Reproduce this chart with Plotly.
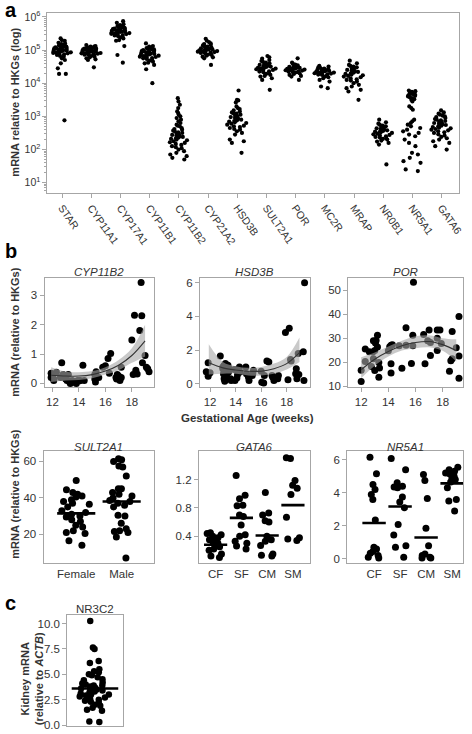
import plotly.graph_objects as go

W, H = 472, 734
FONT = "Liberation Sans, Arial, sans-serif"

# ---------------- Panel a data (log10 of mRNA relative to HKGs) ----------------
genes_a = ["STAR", "CYP11A1", "CYP17A1", "CYP11B1", "CYP11B2", "CYP21A2", "HSD3B",
           "SULT2A1", "POR", "MC2R", "MRAP", "NR0B1", "NR5A1", "GATA6"]
log_star = [5.35, 5.3, 5.28, 5.22, 5.2, 5.18, 5.15, 5.14, 5.12, 5.1, 5.1, 5.08, 5.07, 5.05, 5.05,
            5.04, 5.03, 5.02, 5.01, 5.0, 5.0, 4.99, 4.98, 4.97, 4.96, 4.95, 4.94, 4.93, 4.92, 4.91,
            4.9, 4.88, 4.87, 4.85, 4.82, 4.8, 4.75, 4.7, 4.6, 4.45, 4.28, 4.28, 2.88]
log_cyp11a1 = [5.15, 5.12, 5.1, 5.1, 5.08, 5.07, 5.06, 5.05, 5.04, 5.03, 5.02, 5.01, 5.0, 5.0,
               4.99, 4.98, 4.98, 4.97, 4.96, 4.95, 4.95, 4.94, 4.93, 4.92, 4.91, 4.9, 4.9, 4.89,
               4.88, 4.87, 4.86, 4.85, 4.84, 4.82, 4.8, 4.78, 4.75, 4.72, 4.7, 4.48]
log_cyp17a1 = [5.87, 5.82, 5.78, 5.75, 5.73, 5.72, 5.7, 5.68, 5.67, 5.65, 5.64, 5.63, 5.62, 5.61,
               5.6, 5.6, 5.59, 5.58, 5.57, 5.56, 5.55, 5.55, 5.54, 5.53, 5.52, 5.51, 5.5, 5.49,
               5.48, 5.47, 5.45, 5.44, 5.42, 5.4, 5.38, 5.35, 5.3, 5.28, 5.12, 4.85, 4.62]
log_cyp11b1 = [5.2, 5.12, 5.1, 5.08, 5.06, 5.04, 5.03, 5.02, 5.0, 4.98, 4.97, 4.96, 4.95, 4.94,
               4.93, 4.92, 4.91, 4.9, 4.89, 4.88, 4.87, 4.86, 4.85, 4.84, 4.83, 4.82, 4.8, 4.79,
               4.78, 4.76, 4.75, 4.73, 4.7, 4.68, 4.65, 4.62, 4.6, 4.55, 4.42, 4.0]
log_cyp11b2 = [3.55, 3.45, 3.35, 3.25, 3.15, 3.1, 3.05, 3.0, 2.95, 2.9, 2.85, 2.8, 2.75, 2.72,
               2.7, 2.65, 2.62, 2.6, 2.57, 2.55, 2.52, 2.5, 2.48, 2.46, 2.44, 2.42, 2.4, 2.38,
               2.36, 2.34, 2.32, 2.3, 2.28, 2.25, 2.22, 2.2, 2.17, 2.14, 2.1, 2.07, 2.04, 2.0,
               1.95, 1.9, 1.85, 1.8, 1.75, 1.7]
log_cyp21a2 = [5.34, 5.28, 5.24, 5.2, 5.18, 5.16, 5.14, 5.12, 5.1, 5.08, 5.07, 5.06, 5.05, 5.04,
               5.03, 5.02, 5.01, 5.0, 4.99, 4.98, 4.97, 4.96, 4.95, 4.94, 4.93, 4.92, 4.91, 4.9,
               4.88, 4.86, 4.85, 4.83, 4.8, 4.78, 4.75, 4.55]
log_hsd3b = [3.78, 3.5, 3.48, 3.42, 3.3, 3.25, 3.22, 3.18, 3.15, 3.12, 3.1, 3.08, 3.05, 3.02, 3.0,
             2.98, 2.95, 2.93, 2.9, 2.88, 2.86, 2.84, 2.82, 2.8, 2.78, 2.75, 2.72, 2.7, 2.68, 2.65,
             2.62, 2.6, 2.55, 2.5, 2.45, 2.3, 2.25, 2.2, 1.9]
log_sult2a1 = [4.82, 4.78, 4.74, 4.7, 4.67, 4.65, 4.62, 4.6, 4.58, 4.56, 4.55, 4.54, 4.52, 4.5,
               4.49, 4.48, 4.46, 4.45, 4.44, 4.43, 4.42, 4.4, 4.38, 4.36, 4.35, 4.33, 4.3, 4.28,
               4.25, 4.22, 4.2, 4.15, 4.1, 3.8]
log_por = [4.75, 4.62, 4.58, 4.56, 4.54, 4.52, 4.5, 4.49, 4.48, 4.47, 4.46, 4.45, 4.44, 4.43, 4.42,
           4.41, 4.4, 4.39, 4.38, 4.37, 4.36, 4.35, 4.34, 4.33, 4.32, 4.3, 4.28, 4.25, 4.22, 4.2,
           4.1]
log_mc2r = [4.52, 4.5, 4.48, 4.46, 4.44, 4.43, 4.42, 4.41, 4.4, 4.39, 4.38, 4.37, 4.36, 4.35, 4.34,
            4.33, 4.32, 4.31, 4.3, 4.29, 4.28, 4.27, 4.26, 4.25, 4.22, 4.2, 4.18, 4.15, 4.1, 4.05,
            3.9, 3.85]
log_mrap = [4.68, 4.6, 4.55, 4.52, 4.5, 4.48, 4.45, 4.43, 4.4, 4.38, 4.36, 4.34, 4.32, 4.3, 4.28,
            4.26, 4.24, 4.22, 4.2, 4.18, 4.15, 4.12, 4.1, 4.08, 4.05, 4.0, 3.95, 3.9, 3.85, 3.8,
            3.75, 3.5]
log_nr0b1 = [2.9, 2.82, 2.78, 2.75, 2.72, 2.7, 2.68, 2.66, 2.64, 2.62, 2.6, 2.58, 2.56, 2.55, 2.54,
             2.52, 2.5, 2.48, 2.46, 2.44, 2.42, 2.4, 2.38, 2.36, 2.34, 2.32, 2.3, 2.27, 2.24, 2.2,
             2.15, 1.55]
log_nr5a1 = [3.78, 3.76, 3.74, 3.72, 3.7, 3.68, 3.67, 3.65, 3.63, 3.62, 3.6, 3.58, 3.55, 3.52, 3.5,
             3.45, 3.3, 3.25, 3.2, 2.9, 2.85, 2.8, 2.75, 2.7, 2.65, 2.6, 2.55, 2.5, 2.45, 2.4, 2.3,
             2.2, 2.1, 1.9, 1.85, 1.75, 1.65, 1.6, 1.4, 1.35]
log_gata6 = [3.18, 3.12, 3.08, 3.05, 3.02, 3.0, 2.98, 2.95, 2.92, 2.9, 2.88, 2.86, 2.84, 2.82, 2.8,
             2.78, 2.76, 2.74, 2.72, 2.7, 2.68, 2.66, 2.64, 2.62, 2.6, 2.58, 2.55, 2.52, 2.5, 2.46,
             2.42, 2.38, 2.34, 2.3, 2.25, 2.2, 2.1, 2.0]
logs_a = [log_star, log_cyp11a1, log_cyp17a1, log_cyp11b1, log_cyp11b2, log_cyp21a2, log_hsd3b,
          log_sult2a1, log_por, log_mc2r, log_mrap, log_nr0b1, log_nr5a1, log_gata6]
a_tickexp = [1, 2, 3, 4, 5, 6]

# ---------------- Panel b, row 1 (gestational age vs mRNA) ----------------
age_cyp11b2 = [11.9, 11.9, 11.95, 12.1, 12.1, 12.3, 12.7, 12.6, 12.8, 12.9,
               13.0, 13.1, 13.2, 13.3, 13.35, 13.5, 13.6, 13.8, 13.9, 14.0,
               14.1, 14.3, 14.4, 15.2, 15.2, 15.25, 15.3, 15.5, 15.8, 16.0,
               16.2, 16.4, 16.3, 16.8, 16.85, 16.9, 17.0, 17.1, 17.2, 17.2,
               18.0, 18.1, 18.2, 18.3, 18.4, 18.6, 18.7, 18.75, 18.8, 19.0,
               19.1, 19.2, 19.3]
val_cyp11b2 = [0.35, 0.2, 0.25, 0.1, 0.15, 0.38, 0.7, 0.2, 0.3, 0.25,
               0.15, 0.1, 0.3, 0.05, 0.0, 0.1, 0.05, 0.0, 0.1, 0.08,
               0.1, 0.62, 0.1, 0.3, 0.15, 0.05, 0.4, 0.2, 0.55, 0.6,
               0.85, 1.02, 0.35, 0.2, 0.15, 0.3, 0.25, 0.1, 0.2, 0.55,
               1.48, 0.3, 2.32, 0.45, 0.32, 1.8, 3.43, 2.3, 0.7, 0.95,
               0.55, 0.5, 0.4]
fitage_cyp11b2 = [11.9, 13, 14, 15, 16, 17, 18, 19.0]
fit_cyp11b2 = [0.28, 0.25, 0.25, 0.3, 0.42, 0.62, 0.95, 1.45]
lo_cyp11b2 = [0.05, 0.1, 0.12, 0.18, 0.3, 0.45, 0.7, 0.92]
hi_cyp11b2 = [0.55, 0.4, 0.38, 0.42, 0.55, 0.8, 1.2, 2.0]

age_hsd3b = [11.7, 11.85, 11.85, 12.0, 12.8, 13.0, 13.0, 13.05, 13.1, 13.1,
             13.15, 13.2, 13.2, 13.25, 13.3, 13.4, 13.45, 13.5, 13.6, 13.65,
             13.9, 13.95, 14.1, 14.15, 14.3, 14.35, 14.8, 14.85, 15.0, 15.05,
             15.3, 15.35, 15.4, 16.0, 16.05, 16.2, 16.25, 16.45, 16.6, 16.85,
             16.9, 17.0, 17.1, 17.3, 17.35, 17.9, 18.2, 18.1, 18.3, 18.35,
             18.7, 18.75, 18.8, 18.9, 18.95, 19.3, 19.35, 19.4]
val_hsd3b = [0.72, 0.45, 1.25, 0.66, 1.65, 0.9, 1.0, 0.6, 1.1, 0.3,
             0.15, 1.2, 0.8, 0.5, 0.4, 1.1, 0.7, 0.9, 0.3, 0.2,
             0.85, 0.2, 0.35, 0.55, 1.0, 0.7, 1.0, 0.6, 0.4, 0.2,
             0.5, 0.6, 0.8, 0.75, 0.1, 0.05, 0.5, 1.35, 1.3, 0.5,
             0.4, 0.2, 0.3, 0.3, 0.5, 3.05, 3.3, 0.25, 1.45, 1.35,
             0.6, 0.9, 0.3, 1.8, 0.55, 1.9, 0.2, 6.0]
fitage_hsd3b = [11.9, 13, 14, 15, 16, 17, 18, 19.0]
fit_hsd3b = [1.25, 0.95, 0.82, 0.75, 0.75, 0.9, 1.2, 1.85]
lo_hsd3b = [0.55, 0.6, 0.6, 0.5, 0.5, 0.6, 0.85, 1.3]
hi_hsd3b = [2.35, 1.3, 1.05, 0.95, 1.0, 1.2, 1.6, 2.75]

age_por = [12.0, 12.0, 12.3, 12.3, 12.6, 12.75, 12.9, 12.9, 13.0, 13.1,
           13.2, 13.2, 13.3, 13.35, 13.3, 14.0, 14.1, 14.2, 14.2, 14.2,
           14.3, 14.8, 15.0, 15.3, 15.3, 15.8, 15.8, 15.85, 15.7, 16.6,
           16.7, 17.0, 17.1, 16.9, 17.1, 17.6, 17.6, 17.6, 17.8, 17.9,
           18.7, 18.6, 18.7, 18.5, 19.0, 19.2, 19.2, 19.2, 13.05, 12.85, 13.0]
val_por = [11.9, 16.6, 20.3, 25.5, 24.3, 18.2, 28.9, 21.4, 24.8, 29.0,
           31.2, 26.3, 19.8, 17.5, 13.7, 24.7, 26.4, 27.0, 19.3, 15.5,
           27.3, 26.8, 17.4, 34.4, 27.0, 31.2, 26.8, 53.4, 19.4, 31.5,
           19.3, 33.4, 28.2, 28.9, 22.8, 30.0, 24.8, 33.4, 33.4, 27.8,
           32.8, 20.6, 21.4, 16.2, 26.0, 39.0, 22.5, 13.3, 28.0, 24.2, 16.5]
fitage_por = [12, 13, 14, 15, 16, 17, 18, 19]
fit_por = [16.8, 21.2, 24.4, 26.8, 28.2, 28.6, 27.3, 24.8]
lo_por = [13.3, 18.5, 22.3, 24.8, 25.8, 26.2, 24.7, 20.3]
hi_por = [22.0, 24.0, 26.5, 28.9, 30.8, 31.2, 30.0, 29.5]

# ---------------- Panel b, row 2 (groups) ----------------
sex_groups = ["Female", "Male"]
sult_female = [49.5, 44.5, 43, 42, 41, 40.5, 39, 38, 37, 36.5, 35, 33, 32, 31, 30, 29.5, 28, 27,
               25, 24, 22, 21, 20.5, 16.5, 14]
sult_male = [61.5, 61, 60, 57.5, 57, 52, 45, 45, 43, 42, 41, 40, 38.5, 38, 37, 36, 35, 30.5, 30,
             26, 23, 22, 21.5, 21, 18.5, 7]
sult_center = [31.5, 38]

groups4 = ["CF", "SF", "CM", "SM"]
gata6_cf = [0.45, 0.44, 0.42, 0.4, 0.38, 0.35, 0.32, 0.3, 0.28, 0.25, 0.22, 0.2, 0.15, 0.12, 0.1]
gata6_sf = [1.26, 0.98, 0.93, 0.84, 0.83, 0.7, 0.68, 0.56, 0.42, 0.4, 0.33, 0.3, 0.26, 0.22]
gata6_cm = [1.02, 0.73, 0.7, 0.62, 0.6, 0.4, 0.35, 0.33, 0.27, 0.15, 0.13, 0.12]
gata6_sm = [1.51, 1.5, 1.19, 1.12, 1.08, 0.99, 0.67, 0.38, 0.36, 0.34]
gata6_center = [0.28, 0.66, 0.41, 0.84]

nr5a1_cf = [6.15, 5.15, 4.5, 4.2, 3.9, 3.6, 2.35, 0.7, 0.6, 0.45, 0.35, 0.2, 0.1, 0.05]
nr5a1_sf = [6.07, 5.4, 4.6, 4.4, 4.35, 4.3, 3.75, 3.45, 3.1, 2.08, 1.45, 0.8, 0.7, 0.1]
nr5a1_cm = [5.1, 4.75, 3.65, 1.85, 0.8, 0.3, 0.2, 0.1, 0.05, 0.05]
nr5a1_sm = [5.55, 5.4, 5.3, 5.2, 5.15, 5.0, 4.9, 4.8, 4.65, 4.3, 3.6, 3.5, 2.9]
nr5a1_center = [2.17, 3.17, 1.3, 4.57]

# ---------------- Panel c ----------------
nr3c2 = [10.25, 7.65, 7.5, 6.3, 6.1, 5.5, 5.3, 5.2, 5.0, 4.9, 4.7, 4.5, 4.4, 4.2, 4.1, 4.0, 3.9,
         3.9, 3.8, 3.7, 3.6, 3.5, 3.5, 3.4, 3.3, 3.2, 3.1, 3.0, 3.0, 2.9, 2.8, 2.7, 2.6, 2.5, 2.4,
         2.3, 2.2, 2.0, 1.9, 1.7, 1.5, 1.4, 0.35, 0.3]
nr3c2_center = [3.6]

# ======================================================================
def dx(p):
    return p / W


def dy(p):
    return 1 - p / H


fig = go.Figure()
LINE = "#a6a6a6"
TXT = "#333333"


def dots(xid, yid, positions, groups, width, size, jitter=1.0):
    for pos, vals in zip(positions, groups):
        fig.add_trace(go.Box(
            x=[pos] * len(vals), y=vals, xaxis=xid, yaxis=yid,
            boxpoints="all", jitter=jitter, pointpos=0, width=width,
            fillcolor="rgba(0,0,0,0)", line=dict(width=0, color="rgba(0,0,0,0)"),
            marker=dict(color="black", size=size, line=dict(width=0)),
            showlegend=False, hoverinfo="y"))


def centers(xid, yid, positions, values, half):
    for pos, v in zip(positions, values):
        fig.add_trace(go.Scatter(
            x=[pos - half, pos + half], y=[v, v], xaxis=xid, yaxis=yid, mode="lines",
            line=dict(color="black", width=2.6), showlegend=False, hoverinfo="skip"))


# Panel a
a_vals = [[10 ** v for v in lst] for lst in logs_a]
dots("x", "y", list(range(len(genes_a))), a_vals, 0.72, 4.2)

# Panel b row 1
row1 = [
    ("x2", "y2", age_cyp11b2, val_cyp11b2, fitage_cyp11b2, fit_cyp11b2, lo_cyp11b2, hi_cyp11b2),
    ("x3", "y3", age_hsd3b, val_hsd3b, fitage_hsd3b, fit_hsd3b, lo_hsd3b, hi_hsd3b),
    ("x4", "y4", age_por, val_por, fitage_por, fit_por, lo_por, hi_por),
]
for xid, yid, ages, vals, fa, fv, lo, hi in row1:
    fig.add_trace(go.Scatter(x=ages, y=vals, xaxis=xid, yaxis=yid, mode="markers",
                             marker=dict(color="black", size=7), showlegend=False))
    fig.add_trace(go.Scatter(x=fa, y=lo, xaxis=xid, yaxis=yid, mode="lines",
                             line=dict(width=0, shape="spline"), showlegend=False,
                             hoverinfo="skip"))
    fig.add_trace(go.Scatter(x=fa, y=hi, xaxis=xid, yaxis=yid, mode="lines",
                             fill="tonexty", fillcolor="rgba(165,165,165,0.6)",
                             line=dict(width=0, shape="spline"), showlegend=False,
                             hoverinfo="skip"))
    fig.add_trace(go.Scatter(x=fa, y=fv, xaxis=xid, yaxis=yid, mode="lines",
                             line=dict(color="#333333", width=1.1, shape="spline"),
                             showlegend=False, hoverinfo="skip"))

# Panel b row 2
dots("x5", "y5", [0, 1], [sult_female, sult_male], 0.65, 7)
centers("x5", "y5", [0, 1], sult_center, 0.42)
dots("x6", "y6", [0, 1, 2, 3], [gata6_cf, gata6_sf, gata6_cm, gata6_sm], 0.7, 7)
centers("x6", "y6", [0, 1, 2, 3], gata6_center, 0.45)
dots("x7", "y7", [0, 1, 2, 3], [nr5a1_cf, nr5a1_sf, nr5a1_cm, nr5a1_sm], 0.7, 7)
centers("x7", "y7", [0, 1, 2, 3], nr5a1_center, 0.45)

# Panel c
dots("x8", "y8", [0], [nr3c2], 0.6, 6.5)
centers("x8", "y8", [0], nr3c2_center, 0.42)


def axis_style(**kw):
    d = dict(showline=True, mirror=True, linecolor=LINE, linewidth=1, ticks="outside",
             ticklen=4, tickcolor=LINE, showgrid=False, zeroline=False,
             tickfont=dict(family=FONT, size=11.5, color=TXT))
    d.update(kw)
    return d


layout = dict(
    width=W, height=H, margin=dict(l=0, r=0, t=0, b=0),
    paper_bgcolor="white", plot_bgcolor="white", showlegend=False,
    font=dict(family=FONT, color=TXT),
)

# Panel a axes
layout["xaxis"] = axis_style(domain=[dx(48), dx(464)], range=[-0.5, 13.6],
                             tickvals=list(range(len(genes_a))), ticktext=genes_a,
                             tickangle=55, tickfont=dict(family=FONT, size=10.5, color=TXT))
layout["yaxis"] = axis_style(domain=[dy(191), dy(9)], type="log", range=[0.7, 6.12],
                             tickvals=[10 ** e for e in a_tickexp],
                             ticktext=["10<sup>%d</sup>" % e for e in a_tickexp],
                             tickfont=dict(family=FONT, size=10.5, color=TXT),
                             minor=dict(ticks="outside", ticklen=2, tickcolor=LINE,
                                        dtick="D1", showgrid=False))

# Row 1
r1y = [dy(388), dy(277)]
layout["xaxis2"] = axis_style(domain=[dx(45), dx(156)], range=[11.4, 19.7], tickvals=[12, 14, 16, 18], anchor="y2")
layout["yaxis2"] = axis_style(domain=r1y, range=[-0.13, 3.6], tickvals=[0, 1, 2, 3], anchor="x2")
layout["xaxis3"] = axis_style(domain=[dx(202), dx(313)], range=[11.2, 19.8], tickvals=[12, 14, 16, 18], anchor="y3")
layout["yaxis3"] = axis_style(domain=r1y, range=[-0.2, 6.3], tickvals=[0, 2, 4, 6], anchor="x3")
layout["xaxis4"] = axis_style(domain=[dx(352), dx(468)], range=[11.05, 19.5], tickvals=[12, 14, 16, 18], anchor="y4")
layout["yaxis4"] = axis_style(domain=r1y, range=[9.5, 55.3], tickvals=[10, 20, 30, 40, 50], anchor="x4")

# Row 2
r2y = [dy(566), dy(453)]
layout["xaxis5"] = axis_style(domain=[dx(44), dx(156)], range=[-0.72, 1.72], tickvals=[0, 1],
                              ticktext=sex_groups, ticks="", anchor="y5")
layout["yaxis5"] = axis_style(domain=r2y, range=[4.2, 65.5], tickvals=[20, 40, 60], anchor="x5")
layout["xaxis6"] = axis_style(domain=[dx(201), dx(313)], range=[-0.65, 3.65], tickvals=[0, 1, 2, 3],
                              ticktext=groups4, ticks="", anchor="y6")
layout["yaxis6"] = axis_style(domain=r2y, range=[0.02, 1.6], tickvals=[0.4, 0.8, 1.2],
                              ticktext=["0.4", "0.8", "1.2"], anchor="x6")
layout["xaxis7"] = axis_style(domain=[dx(351), dx(468)], range=[-1.03, 3.42], tickvals=[0, 1, 2, 3],
                              ticktext=groups4, ticks="", anchor="y7")
layout["yaxis7"] = axis_style(domain=r2y, range=[-0.25, 6.5], tickvals=[0, 2, 4, 6], anchor="x7")

# Panel c
layout["xaxis8"] = axis_style(domain=[dx(68), dx(124)], range=[-0.5, 0.5], showticklabels=False,
                              ticks="", anchor="y8")
layout["yaxis8"] = axis_style(domain=[dy(731), dy(619)], range=[-0.1, 10.8],
                              tickvals=[0, 2.5, 5, 7.5, 10],
                              ticktext=["0.0", "2.5", "5.0", "7.5", "10.0"], anchor="x8")

fig.update_layout(**layout)


def ann(text, x, y, size=11.5, angle=0, xanchor="center", yanchor="middle", color=TXT):
    fig.add_annotation(text=text, x=dx(x), y=dy(y), xref="paper", yref="paper",
                       showarrow=False, textangle=angle, xanchor=xanchor, yanchor=yanchor,
                       font=dict(family=FONT, size=size, color=color))


# Panel letters
ann("<b>a</b>", 3, 6, size=20, xanchor="left", color="black")
ann("<b>b</b>", 3, 250, size=20, xanchor="left", color="black")
ann("<b>c</b>", 3, 606, size=20, xanchor="left", color="black")

# Axis titles
ann("<b>mRNA relative to HKGs (log)</b>", 15, 99, size=11, angle=-90)
ann("<b>mRNA (relative to HKGs)</b>", 15, 332, size=11, angle=-90)
ann("<b>mRNA (relative to HKGs)</b>", 15, 496, size=11, angle=-90)
ann("<b>Gestational Age (weeks)</b>", 250, 419, size=11.5)
ann("<b>Kidney mRNA<br>(relative to <i>ACTB</i>)</b>", 32, 683, size=11, angle=-90)

# Subplot titles
ann("<i>CYP11B2</i>", 100, 271)
ann("<i>HSD3B</i>", 257, 271)
ann("<i>POR</i>", 410, 271)
ann("<i>SULT2A1</i>", 100, 448)
ann("<i>GATA6</i>", 257, 448)
ann("<i>NR5A1</i>", 410, 448)
ann("NR3C2", 96, 613)

fig.write_html("out.html", config={"displayModeBar": False},
               post_script="document.body.style.margin='0';document.body.style.overflow='hidden';")
